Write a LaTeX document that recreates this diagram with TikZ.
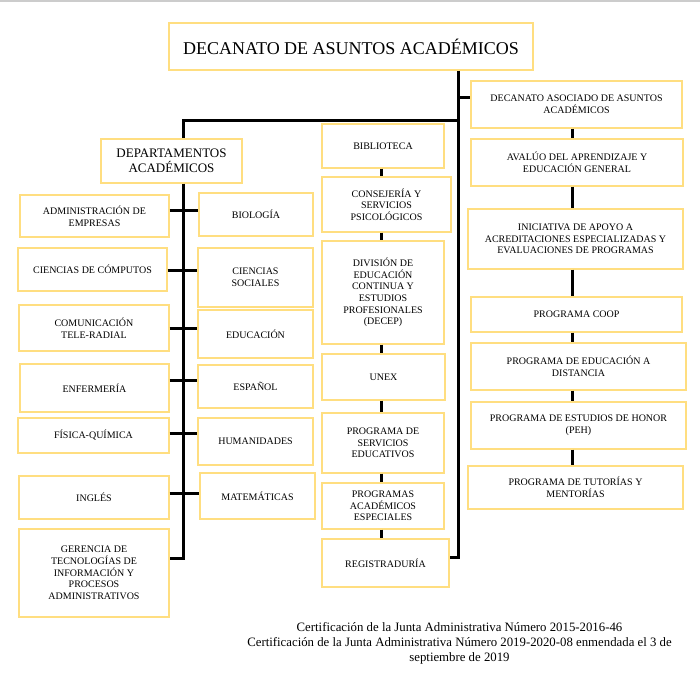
\documentclass[tikz,border=0pt]{standalone}
\usepackage{fontspec}
\setmainfont{Liberation Serif}
\definecolor{boxgold}{RGB}{255,222,128}

\begin{document}
\begin{tikzpicture}[x=1pt,y=-1pt]
\tikzstyle{block} = [rectangle, draw=boxgold, line width=1.3pt, fill=white,
align=center, inner sep=0pt, font=\fontsize{10}{11.7}\selectfont]
\tikzstyle{line} = [draw, line width=3pt]
\useasboundingbox (0,0) rectangle (700,681);
\draw[black!20, line width=1.5pt] (0,1) -- (700,1);
% top
\node [block, minimum width=364pt, minimum height=47pt, font=\fontsize{18}{21}\selectfont] (decanato) at (351,46.5) {DECANATO DE ASUNTOS ACADÉMICOS};
% left
\node [block, minimum width=141pt, minimum height=44pt, font=\fontsize{13}{15}\selectfont] (dept) at (171.5,161) {DEPARTAMENTOS\\ACADÉMICOS};
\node [block, minimum width=149pt, minimum height=42pt] (admin) at (94.5,216) {ADMINISTRACIÓN DE\\EMPRESAS};
\node [block, minimum width=114pt, minimum height=43pt] (bio) at (256,214.5) {BIOLOGÍA};
\node [block, minimum width=149pt, minimum height=43pt] (comp) at (92.5,269.5) {CIENCIAS DE CÓMPUTOS};
\node [block, minimum width=115pt, minimum height=59pt] (soc) at (255.5,277.5) {CIENCIAS\\SOCIALES};
\node [block, minimum width=150pt, minimum height=46pt] (comu) at (94,328) {COMUNICACIÓN\\TELE-RADIAL};
\node [block, minimum width=115pt, minimum height=48pt] (edu) at (255.5,334) {EDUCACIÓN};
\node [block, minimum width=149pt, minimum height=48pt] (enf) at (94.5,388) {ENFERMERÍA};
\node [block, minimum width=115pt, minimum height=43pt] (esp) at (255.5,386.5) {ESPAÑOL};
\node [block, minimum width=151pt, minimum height=35pt] (fis) at (93.5,435.5) {FÍSICA-QUÍMICA};
\node [block, minimum width=115pt, minimum height=47pt] (hum) at (255.5,441.5) {HUMANIDADES};
\node [block, minimum width=150pt, minimum height=43pt] (ing) at (94,497.5) {INGLÉS};
\node [block, minimum width=115pt, minimum height=46pt] (mat) at (257.5,496) {MATEMÁTICAS};
\node [block, minimum width=150pt, minimum height=88pt] (ger) at (94,573) {GERENCIA DE\\TECNOLOGÍAS DE\\INFORMACIÓN Y\\PROCESOS\\ADMINISTRATIVOS};
% middle
\node [block, minimum width=122pt, minimum height=44pt] (bib) at (383,146) {BIBLIOTECA};
\node [block, minimum width=129pt, minimum height=55pt] (cons) at (386.5,204.5) {CONSEJERÍA Y\\SERVICIOS\\PSICOLÓGICOS};
\node [block, minimum width=122pt, minimum height=103pt] (div) at (383,292.5) {DIVISIÓN DE\\EDUCACIÓN\\CONTINUA Y\\ESTUDIOS\\PROFESIONALES\\(DECEP)};
\node [block, minimum width=123pt, minimum height=46pt] (unex) at (383.5,377) {UNEX};
\node [block, minimum width=122pt, minimum height=60pt] (pse) at (383,443) {PROGRAMA DE\\SERVICIOS\\EDUCATIVOS};
\node [block, minimum width=122pt, minimum height=46pt] (pae) at (383,506) {PROGRAMAS\\ACADÉMICOS\\ESPECIALES};
\node [block, minimum width=127pt, minimum height=48pt] (reg) at (385.5,563) {REGISTRADURÍA};
% right
\node [block, minimum width=211pt, minimum height=47pt] (dasoc) at (576.5,104.5) {DECANATO ASOCIADO DE ASUNTOS\\ACADÉMICOS};
\node [block, minimum width=212pt, minimum height=47pt] (aval) at (577,162.5) {AVALÚO DEL APRENDIZAJE Y\\EDUCACIÓN GENERAL};
\node [block, minimum width=215pt, minimum height=60pt] (inic) at (575.5,239) {INICIATIVA DE APOYO A\\ACREDITACIONES ESPECIALIZADAS Y\\EVALUACIONES DE PROGRAMAS};
\node [block, minimum width=211pt, minimum height=35pt] (coop) at (576.5,314.5) {PROGRAMA COOP};
\node [block, minimum width=215pt, minimum height=47pt] (dist) at (578.5,366.5) {PROGRAMA DE EDUCACIÓN A\\DISTANCIA};
\node [block, minimum width=215pt, minimum height=47pt] (honor) at (578.5,425.5) {PROGRAMA DE ESTUDIOS DE HONOR\\(PEH)};
\node [block, minimum width=215pt, minimum height=43pt] (tut) at (575.5,487.5) {PROGRAMA DE TUTORÍAS Y\\MENTORÍAS};
% footer
\node [align=center, font=\fontsize{12.8}{14.7}\selectfont] (cert) at (459.5,643.5) {Certificación de la Junta Administrativa Número 2015-2016-46\\Certificación de la Junta Administrativa Número 2019-2020-08 enmendada el 3 de\\septiembre de 2019};
% junctions
\coordinate (trunk) at (458,557);
\coordinate (jasoc) at (458,97);
\coordinate (jdept) at (458,120);
\coordinate (spine) at (183,558);
\coordinate (midcol) at (381,0);
\coordinate (rcol) at (572,0);
\coordinate (r1) at (0,210);
\coordinate (r2) at (0,270);
\coordinate (r3) at (0,328);
\coordinate (r4) at (0,380);
\coordinate (r5) at (0,433);
\coordinate (r6) at (0,493);
\draw[line] (decanato.south -| trunk) -- (trunk) -- (reg.east |- trunk);
\draw[line] (jasoc) -- (jasoc -| dasoc.west);
\draw[line] (jdept) -- (jdept -| spine) -- (dept.north -| spine);
\draw[line] (dept.south -| spine) -- (spine) -- (ger.east |- spine);
\draw[line] (admin.east |- r1) -- (bio.west |- r1);
\draw[line] (comp.east |- r2) -- (soc.west |- r2);
\draw[line] (comu.east |- r3) -- (edu.west |- r3);
\draw[line] (enf.east |- r4) -- (esp.west |- r4);
\draw[line] (fis.east |- r5) -- (hum.west |- r5);
\draw[line] (ing.east |- r6) -- (mat.west |- r6);
\draw[line] (bib.south -| midcol) -- (cons.north -| midcol);
\draw[line] (cons.south -| midcol) -- (div.north -| midcol);
\draw[line] (div.south -| midcol) -- (unex.north -| midcol);
\draw[line] (unex.south -| midcol) -- (pse.north -| midcol);
\draw[line] (pse.south -| midcol) -- (pae.north -| midcol);
\draw[line] (pae.south -| midcol) -- (reg.north -| midcol);
\draw[line] (dasoc.south -| rcol) -- (aval.north -| rcol);
\draw[line] (aval.south -| rcol) -- (inic.north -| rcol);
\draw[line] (inic.south -| rcol) -- (coop.north -| rcol);
\draw[line] (coop.south -| rcol) -- (dist.north -| rcol);
\draw[line] (dist.south -| rcol) -- (honor.north -| rcol);
\draw[line] (honor.south -| rcol) -- (tut.north -| rcol);
\end{tikzpicture}
\end{document}
